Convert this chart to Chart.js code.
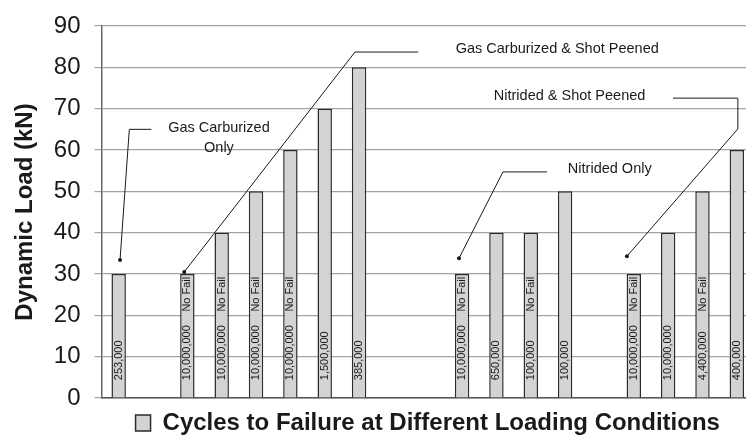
<!DOCTYPE html>
<html>
<head>
<meta charset="utf-8">
<script src="https://cdn.jsdelivr.net/npm/chart.js@4/dist/chart.umd.min.js"></script>
<style>
  html, body { margin: 0; padding: 0; background: #fff; overflow: hidden; }
  #wrap { width: 760px; height: 436px; }
</style>
</head>
<body>
<div id="wrap"><canvas id="chart" width="760" height="436"></canvas></div>
<script>
// one slot per bar position, empty slots keep the gaps between groups
const cycles = [
  '253,000', '', '10,000,000', '10,000,000', '10,000,000', '10,000,000', '1,500,000', '385,000',
  '', '', '10,000,000', '650,000', '100,000', '100,000', '', '10,000,000', '10,000,000', '4,400,000', '400,000',
];
const loads = [30, null, 30, 40, 50, 60, 70, 80, null, null, 30, 40, 40, 50, null, 30, 40, 50, 60];
const noFail = [false, false, true, true, true, true, false, false, false, false,
  true, false, true, false, false, true, false, true, false];

const Y_MIN = 0;
const Y_MAX = 90;
const Y_STEP = 10;

const seriesName = 'Cycles to Failure at Different Loading Conditions';
const yTitle = 'Dynamic Load (kN)';

const noteTexts = [['Gas Carburized', 'Only'], ['Gas Carburized & Shot Peened'], ['Nitrided Only'], ['Nitrided & Shot Peened']];
// leader paths in (slot, load) units, first point is the dot
const notePaths = [
  [[0.04, 33.4], [0.31, 65.0], [0.95, 65.0]],
  [[1.91, 30.5], [6.88, 83.7], [8.72, 83.7]],
  [[9.91, 33.8], [11.19, 54.7], [12.47, 54.7]],
  [[14.8, 34.3], [18.03, 65.1], [18.03, 72.55], [16.14, 72.55]],
];
const noteAt = [[2.92, 65.3], [12.77, 84.55], [14.3, 55.5], [13.13, 72.96]];

const FONT = '"Liberation Sans", Arial, sans-serif';
const INK = '#1a1a1a';

const labelsPlugin = {
  id: 'barLabels',
  afterDatasetsDraw(chart) {
    const { ctx } = chart;
    const x = chart.scales.x;
    const y = chart.scales.y;
    const meta = chart.getDatasetMeta(0);
    const slotX = (s) => x.getPixelForValue(0) + s * (x.getPixelForValue(1) - x.getPixelForValue(0));

    ctx.save();
    ctx.fillStyle = INK;
    ctx.font = '11px ' + FONT;
    ctx.textAlign = 'left';
    ctx.textBaseline = 'middle';
    meta.data.forEach((bar, i) => {
      if (loads[i] == null) return;
      const put = (txt, v) => {
        ctx.save();
        ctx.translate(bar.x, y.getPixelForValue(v));
        ctx.rotate(-Math.PI / 2);
        ctx.fillText(txt, 0, 0);
        ctx.restore();
      };
      put(cycles[i], 4.3);
      if (noFail[i]) put('No Fail', 20.9);
    });

    // callouts
    ctx.strokeStyle = INK;
    ctx.lineWidth = 1;
    notePaths.forEach((path, n) => {
      ctx.beginPath();
      path.forEach(([s, v], k) => {
        const px = slotX(s), py = y.getPixelForValue(v);
        if (k === 0) ctx.moveTo(px, py); else ctx.lineTo(px, py);
      });
      ctx.stroke();
      const [ds, dv] = path[0];
      ctx.beginPath();
      ctx.arc(slotX(ds), y.getPixelForValue(dv), 2, 0, Math.PI * 2);
      ctx.fillStyle = INK;
      ctx.fill();

      ctx.font = '14.5px ' + FONT;
      ctx.textAlign = 'center';
      const lines = noteTexts[n];
      const cx = slotX(noteAt[n][0]);
      const cy = y.getPixelForValue(noteAt[n][1]);
      lines.forEach((t, k) => ctx.fillText(t, cx, cy + k * 20));
    });
    ctx.restore();
  },
};

new Chart(document.getElementById('chart'), {
  type: 'bar',
  data: {
    labels: cycles,
    datasets: [{
      label: seriesName,
      data: loads,
      backgroundColor: '#d3d3d3',
      borderColor: '#2b2b2b',
      borderWidth: 1.5,
      categoryPercentage: 1,
      barPercentage: 0.42,
    }],
  },
  options: {
    responsive: false,
    animation: false,
    layout: { padding: { top: -2, right: 6, left: 11, bottom: -9 } },
    plugins: {
      tooltip: { enabled: false },
      legend: {
        position: 'bottom',
        fullSize: false,
        labels: {
          color: INK,
          boxWidth: 15,
          boxHeight: 16,
          padding: 1,
          font: { family: FONT, size: 24, weight: 'bold', lineHeight: 1 },
        },
      },
    },
    scales: {
      x: {
        ticks: { display: false },
        grid: { display: false },
        border: { display: true, color: '#555', width: 1.5 },
        afterFit(scale) { scale.height = 12; },
      },
      y: {
        min: Y_MIN,
        max: Y_MAX,
        ticks: {
          stepSize: Y_STEP,
          color: INK,
          padding: 14,
          font: { family: FONT, size: 24, lineHeight: 1 },
        },
        grid: { color: '#a3a3a3', lineWidth: 1.2, tickLength: 7 },
        border: { display: true, color: '#666', width: 1.5 },
        title: {
          display: true,
          text: yTitle,
          color: INK,
          font: { family: FONT, size: 24, weight: 'bold' },
          padding: { top: 0, bottom: 0 },
        },
      },
    },
  },
  plugins: [labelsPlugin],
});
</script>
</body>
</html>
